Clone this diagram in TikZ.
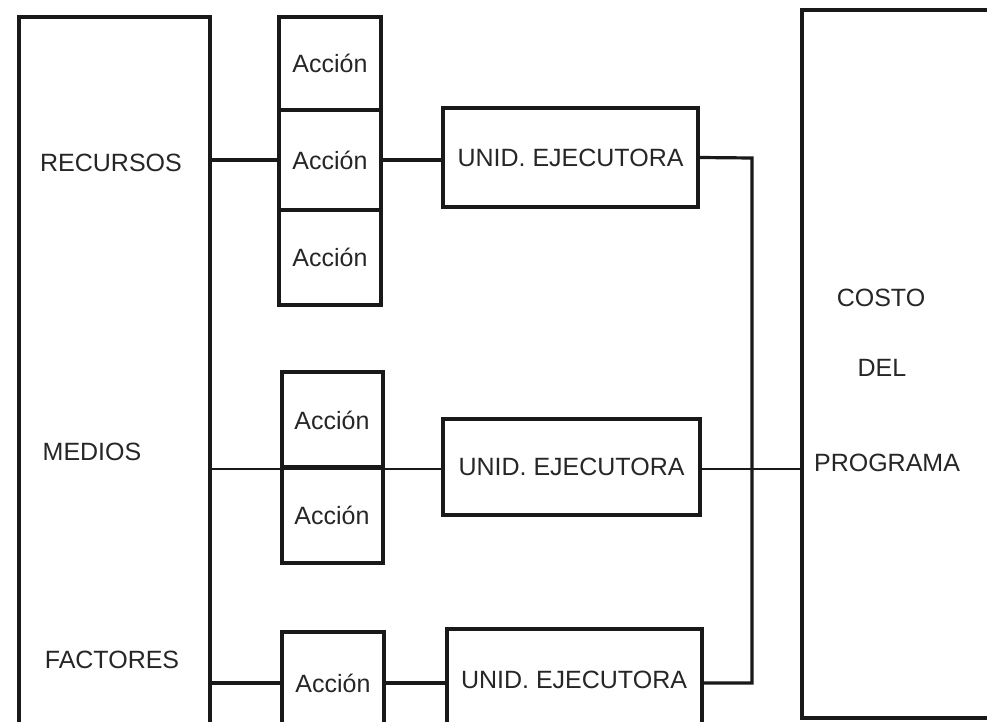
\documentclass[tikz,border=0pt]{standalone}
\usepackage{fontspec}
\setmainfont{Liberation Sans}
\begin{document}
\begin{tikzpicture}[x=1pt,y=-1pt,
  box/.style={draw=black!90,line width=4pt,inner sep=0pt,fill=none},
  conn/.style={draw=black!90,line width=3.2pt},
  thin/.style={draw=black!90,line width=2.6pt},
  lbl/.style={font=\fontsize{25}{28}\selectfont,text=black!85,inner sep=0pt}]
\useasboundingbox (0,0) rectangle (987,722);
\clip (0,0) rectangle (987,722);
% boxes: node at center with min sizes
\newcommand{\bx}[5]{\node[box,minimum width=#4-#2,minimum height=#5-#3] (#1) at ({(#2+#4)/2},{(#3+#5)/2}) {};}
\bx{L}{19}{17}{210}{770}
\bx{R}{802}{10}{1020}{718}
\bx{a1}{279}{17}{381}{110}
\bx{a2}{279}{110}{381}{210}
\bx{a3}{279}{210}{381}{305}
\bx{m1}{282}{372}{383}{467}
\bx{m2}{282}{467}{383}{563}
\bx{b1}{282}{632}{384}{770}
\bx{u1}{443}{108}{698}{207}
\bx{u2}{443}{419}{700}{515}
\bx{u3}{447}{629}{702}{770}
% labels
\node[lbl] (t1) at (111,163) {RECURSOS};
\node[lbl] (t2) at (92,452) {MEDIOS};
\node[lbl] (t3) at (112,660) {FACTORES};
\node[lbl] (c1) at (881,298) {COSTO};
\node[lbl] (c2) at (882,368) {DEL};
\node[lbl] (c3) at (887,463) {PROGRAMA};
\node[lbl] (ta1) at (a1) {Acción};
\node[lbl] (ta2) at (a2) {Acción};
\node[lbl] (ta3) at (a3) {Acción};
\node[lbl] (tm1) at (332,420) {Acción};
\node[lbl] (tm2) at (332,515) {Acción};
\node[lbl] (bt) at (333,683) {Acción};
\node[lbl] (tu1) at (u1) {UNID. EJECUTORA};
\node[lbl] (tu2) at (u2) {UNID. EJECUTORA};
\node[lbl] (tu3) at (574,680) {UNID. EJECUTORA};
\coordinate (v) at (752,158);
% connectors
\draw[conn] (L.east |- a2) -- (a2.west);
\draw[conn] (a2.east) -- (a2.east -| u1.west);
\draw[conn] (u1.east) -- (v) -- (v |- bt) -- (u3.east |- bt);
\draw[thin] (L.east |- m1.south) -- (u2.west |- m1.south);
\draw[thin] (u2.east |- m1.south) -- (R.west |- m1.south);
\draw[conn] (L.east |- bt) -- (b1.west |- bt);
\draw[conn] (b1.east |- bt) -- (u3.west |- bt);
\end{tikzpicture}
\end{document}
